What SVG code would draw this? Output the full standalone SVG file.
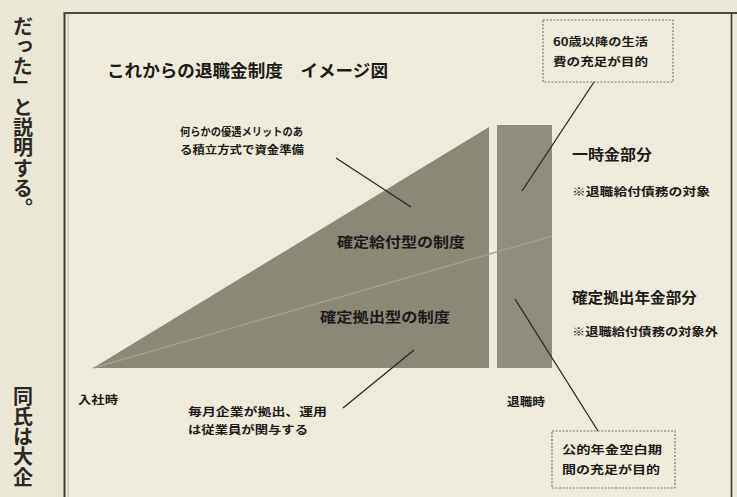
<svg xmlns="http://www.w3.org/2000/svg" width="737" height="497" viewBox="0 0 737 497">
<style>
text{font-family:"Noto Sans CJK JP","Noto Sans CJK SC",sans-serif;fill:#1c1b18;font-weight:bold}
.t{font-size:17px}
.s{font-size:11px}
.m{font-size:14px}
.h{font-size:15px}
.v{font-size:20px;font-weight:bold;fill:#2a2925;writing-mode:vertical-rl;letter-spacing:0.3px}
.lead{stroke:#2a2925;stroke-width:1.3;fill:none}
.box{fill:#efecde;stroke:#7a786e;stroke-width:1.2;stroke-dasharray:2 1.5}
</style>
<rect x="0" y="0" width="737" height="497" fill="#ebe7d6"/>
<g id="frame">
<rect x="66" y="13" width="665" height="490" fill="#eeebdc"/>
<line x1="64.5" y1="12" x2="64.5" y2="497" stroke="#3a3934" stroke-width="2"/>
<line x1="68" y1="14" x2="68" y2="497" stroke="#b8b5a6" stroke-width="1"/>
<line x1="64" y1="13" x2="737" y2="13" stroke="#4a4943" stroke-width="2"/>
<line x1="731.5" y1="13" x2="731.5" y2="497" stroke="#3a3934" stroke-width="1.6"/>
</g>
<g id="left-column">
<text class="v" x="23" y="16">だった」と説明する。</text>
<text class="v" x="23" y="386">同氏は大企</text>
</g>
<g id="title"><text class="t" x="107" y="77" textLength="281" lengthAdjust="spacingAndGlyphs">これからの退職金制度　イメージ図</text></g>
<g id="chart">
<polygon points="93,368 489,127 489,368" fill="#8b8878"/>
<rect x="497" y="125" width="55" height="243" fill="#8f8c7f"/>
<line x1="93" y1="368" x2="552" y2="236" stroke="#a3a090" stroke-width="1.4"/>
</g>
<g id="db"><text class="m" x="337" y="247" textLength="128" lengthAdjust="spacingAndGlyphs">確定給付型の制度</text></g>
<g id="dc"><text class="m" x="320" y="322" textLength="130" lengthAdjust="spacingAndGlyphs">確定拠出型の制度</text></g>
<g id="note-left">
<text class="s" x="180" y="136" textLength="123" lengthAdjust="spacingAndGlyphs">何らかの優遇メリットのあ</text>
<text class="s" x="180" y="154" textLength="124" lengthAdjust="spacingAndGlyphs">る積立方式で資金準備</text>
</g>
<g id="note-top">
<rect class="box" x="543" y="20" width="130" height="62"/>
<text class="s" x="553" y="46" textLength="95" lengthAdjust="spacingAndGlyphs">60歳以降の生活</text>
<text class="s" x="553" y="66" textLength="95" lengthAdjust="spacingAndGlyphs">費の充足が目的</text>
</g>
<g id="lump">
<text class="h" x="572" y="160" textLength="80" lengthAdjust="spacingAndGlyphs">一時金部分</text>
<text class="s" x="572" y="196" textLength="138" lengthAdjust="spacingAndGlyphs">※退職給付債務の対象</text>
</g>
<g id="dc-part">
<text class="h" x="572" y="303" textLength="125" lengthAdjust="spacingAndGlyphs">確定拠出年金部分</text>
<text class="s" x="572" y="336" textLength="146" lengthAdjust="spacingAndGlyphs">※退職給付債務の対象外</text>
</g>
<g id="start"><text class="s" x="78" y="404" textLength="40" lengthAdjust="spacingAndGlyphs">入社時</text></g>
<g id="end"><text class="s" x="507" y="406" textLength="38" lengthAdjust="spacingAndGlyphs">退職時</text></g>
<g id="note-bottom">
<text class="s" x="188" y="416" textLength="139" lengthAdjust="spacingAndGlyphs">毎月企業が拠出、運用</text>
<text class="s" x="188" y="434" textLength="120" lengthAdjust="spacingAndGlyphs">は従業員が関与する</text>
</g>
<g id="note-br">
<rect class="box" x="552" y="431" width="123" height="57"/>
<text class="s" x="562" y="454" textLength="100" lengthAdjust="spacingAndGlyphs">公的年金空白期</text>
<text class="s" x="562" y="474" textLength="98" lengthAdjust="spacingAndGlyphs">間の充足が目的</text>
</g>
<g id="connectors">
<line class="lead" x1="594" y1="82" x2="522" y2="191"/>
<line class="lead" x1="336" y1="158" x2="411" y2="207"/>
<line class="lead" x1="343" y1="408" x2="414" y2="350"/>
<line class="lead" x1="515" y1="299" x2="598" y2="431"/>
</g>
</svg>
